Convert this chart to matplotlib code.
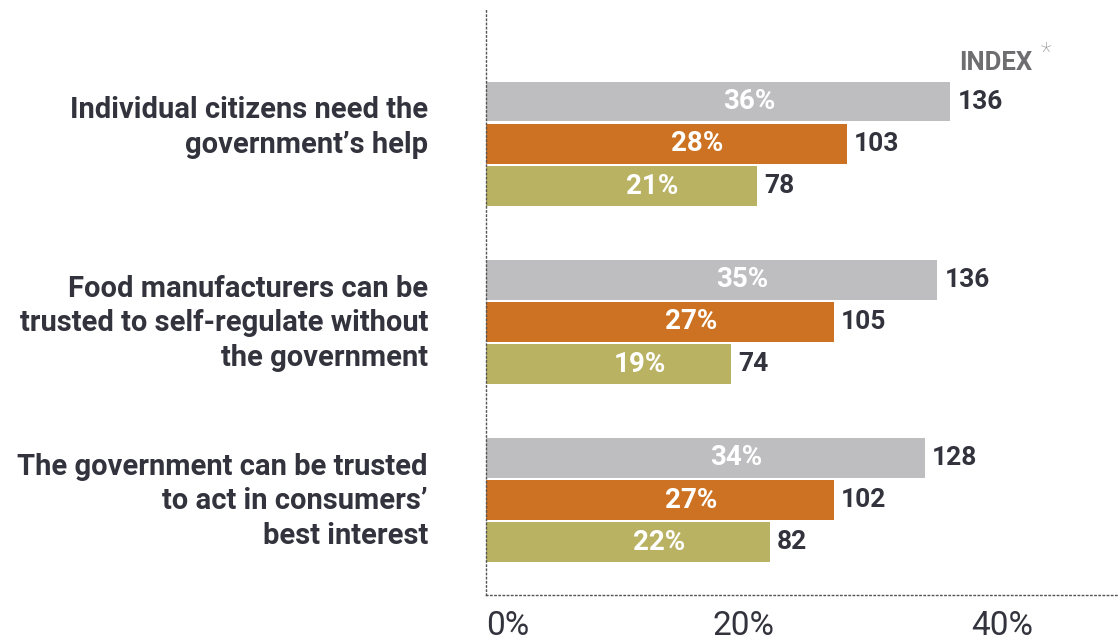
import matplotlib.pyplot as plt
from matplotlib import font_manager

# survey shares (%) and index values, three rows per statement
statements = [
    "Individual citizens need the\ngovernment\u2019s help",
    "Food manufacturers can be\ntrusted to self-regulate without\nthe government",
    "The government can be trusted\nto act in consumers\u2019\nbest interest",
]
share_top = [36, 35, 34]
share_mid = [28, 27, 27]
share_low = [21, 19, 22]
index_top = [136, 136, 128]
index_mid = [103, 105, 102]
index_low = [78, 74, 82]

tick_values = [0, 20, 40]
tick_labels = ["0%", "20%", "40%"]

GREY = "#bebec0"
ORANGE = "#cd7222"
OLIVE = "#b9b263"
DARK = "#33333d"

installed = {f.name for f in font_manager.fontManager.ttflist}
plt.rcParams["font.family"] = (["Roboto", "DejaVu Sans"] if "Roboto" in installed
                               else ["DejaVu Sans"])

fig = plt.figure(figsize=(11.18, 6.41), dpi=100)
ax = fig.add_axes([0.4347, 0.0718, 0.5653, 0.9126])

group_gap = 4.2
bar_h = 0.94
rows = [(-1, share_top, index_top, GREY),
        (0, share_mid, index_mid, ORANGE),
        (1, share_low, index_low, OLIVE)]

for offset, shares, indices, colour in rows:
    ys = [g * group_gap + offset for g in range(len(statements))]
    ax.barh(ys, shares, height=bar_h, color=colour, linewidth=0)
    for y, s, idx in zip(ys, shares, indices):
        ax.text(s / 2 + 2.4, y, f"{s}%", ha="center", va="center",
                color="white", fontweight="bold", fontsize=20)
        ax.annotate(str(idx), (s, y), xytext=(7, 0), textcoords="offset pixels",
                    ha="left", va="center", color=DARK, fontweight="bold", fontsize=19)

# statement labels to the left of each group
for g, label in enumerate(statements):
    ax.annotate(label, (0, g * group_gap - 1.12), xytext=(-58, 0),
                textcoords="offset pixels", ha="right", va="top",
                color=DARK, fontweight="bold", fontsize=21, linespacing=1.3,
                annotation_clip=False)

# INDEX header above the first group
ax.annotate("INDEX", (share_top[0], -1.92), xytext=(9, 0), textcoords="offset pixels",
            ha="left", va="center", color="#6e6e71", fontweight="bold", fontsize=18.5)
ax.annotate("*", (share_top[0], -1.92), xytext=(90, 9), textcoords="offset pixels",
            ha="left", va="center", color="#9a9a9c", fontweight="light", fontsize=18)

ax.set_xlim(0, 49.0)
ax.set_ylim(10.64, -3.16)
ax.set_yticks([])
ax.set_xticks(tick_values, tick_labels)
ax.tick_params(axis="x", length=0, pad=11, labelsize=24, labelcolor=DARK)
ax.get_xticklabels()[0].set_horizontalalignment("left")

for side in ("top", "right"):
    ax.spines[side].set_visible(False)
for side in ("left", "bottom"):
    ax.spines[side].set_linestyle((0, (1, 2)))
    ax.spines[side].set_linewidth(1.0)
    ax.spines[side].set_color("#555555")

fig.savefig("out.png", dpi=100)
